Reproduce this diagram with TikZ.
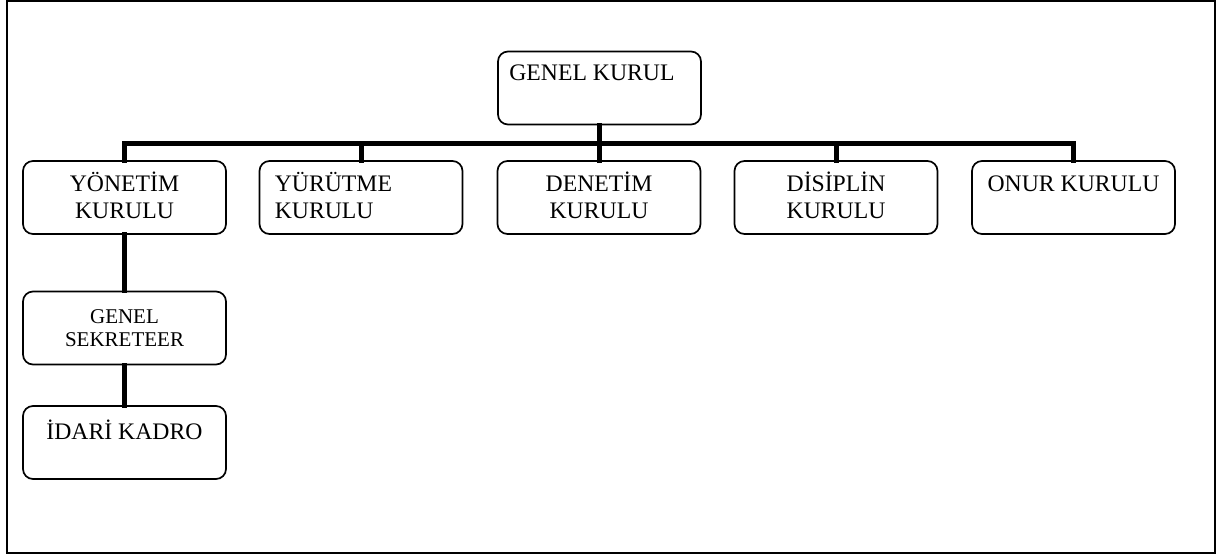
\documentclass[tikz,border=0pt]{standalone}
\usepackage{fontspec}
\setmainfont{Liberation Serif}
\usetikzlibrary{calc}

\tikzset{
  unitbox/.style={draw, line width=1.7pt, rounded corners=10pt,
    minimum width=203pt, minimum height=73pt, inner sep=0pt},
  lbl/.style={inner sep=0pt, font=\fontsize{23.7}{27}\selectfont},
  small lbl/.style={inner sep=0pt, font=\fontsize{21}{23}\selectfont},
  conn/.style={line width=5pt, line join=miter, line cap=rect},
  frame/.style={draw, line width=2pt}
}

\begin{document}
\begin{tikzpicture}[x=1pt, y=-1pt]
  \useasboundingbox (0,0) rectangle (1217,557);
  \draw[frame] (7,1) rectangle (1215,553);

  % boxes
  \node[unitbox] (gk)   at (599.5,88)   {};
  \node[unitbox] (yon)  at (124.5,197.5) {};
  \node[unitbox] (yur)  at (361,197.5)   {};
  \node[unitbox] (den)  at (599,197.5)   {};
  \node[unitbox] (dis)  at (836,197.5)   {};
  \node[unitbox] (onur) at (1073.5,197.5) {};
  \node[unitbox] (gs)   at (124.5,328)   {};
  \node[unitbox] (ida)  at (124.5,442.5) {};

  % labels
  \node[lbl, anchor=base west] at ($(gk.north west)+(12,30)$) {GENEL KURUL};
  \node[lbl, anchor=base] at ($(yon.north)+(0,31)$) {YÖNETİM};
  \node[lbl, anchor=base] at ($(yon.north)+(0,58)$) {KURULU};
  \node[lbl, anchor=base west] at ($(yur.north west)+(16,31)$) {YÜRÜTME};
  \node[lbl, anchor=base west] at ($(yur.north west)+(16,58)$) {KURULU};
  \node[lbl, anchor=base] at ($(den.north)+(0,31)$) {DENETİM};
  \node[lbl, anchor=base] at ($(den.north)+(0,58)$) {KURULU};
  \node[lbl, anchor=base] at ($(dis.north)+(0,31)$) {DİSİPLİN};
  \node[lbl, anchor=base] at ($(dis.north)+(0,58)$) {KURULU};
  \node[lbl, anchor=base] at ($(onur.north)+(0,31)$) {ONUR KURULU};
  \node[small lbl, anchor=base] at ($(gs.north)+(0,33)$) {GENEL};
  \node[small lbl, anchor=base] at ($(gs.north)+(0,56)$) {SEKRETEER};
  \node[lbl, anchor=base] at ($(ida.north)+(0,34)$) {İDARİ KADRO};

  % connectors
  \coordinate (bar) at (0,143);
  \draw[conn] (gk.south) -- (gk.south |- bar);
  \draw[conn] (yon.north) -- (yon.north |- bar) -- (onur.north |- bar) -- (onur.north);
  \draw[conn] (yur.north |- bar) -- (yur.north);
  \draw[conn] (den.north |- bar) -- (den.north);
  \draw[conn] (dis.north |- bar) -- (dis.north);
  \draw[conn] (yon.south) -- (gs.north);
  \draw[conn] (gs.south) -- (ida.north);
\end{tikzpicture}
\end{document}
